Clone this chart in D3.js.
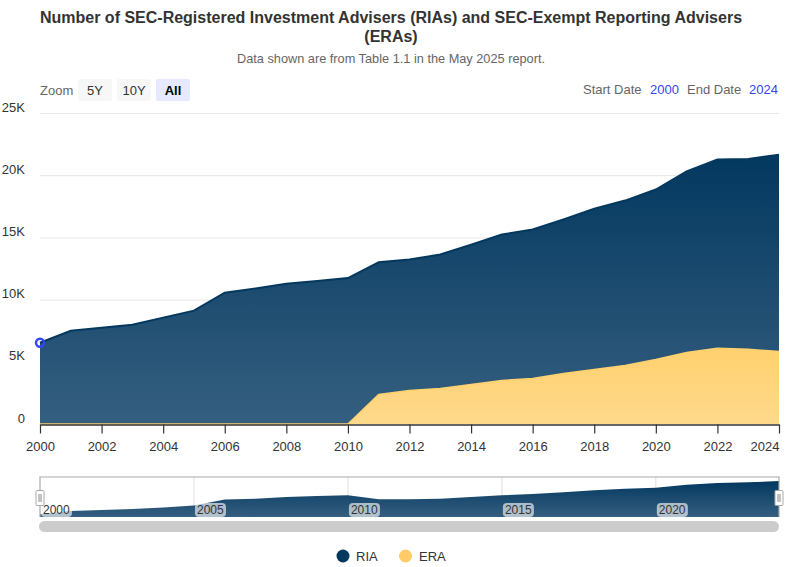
<!DOCTYPE html>
<html><head><meta charset="utf-8">
<script src="https://cdn.jsdelivr.net/npm/d3@7"></script>
<style>
html,body{margin:0;padding:0;background:#fff}
svg{display:block;font-family:"Liberation Sans",Arial,sans-serif}
.xa path{stroke:#333;stroke-width:1.5}
.xa line{stroke:#333;stroke-width:1.2}
.xa text{font-size:13px;fill:#333;font-family:"Liberation Sans"}
</style></head><body>
<svg id="c" width="786" height="567"></svg>
<script>
const years = d3.range(2000, 2025);
const ria = [6530,7500,7740,7980,8550,9110,10560,10890,11270,11500,11730,13000,13230,13620,14410,15230,15630,16440,17300,17960,18850,20300,21270,21310,21650];
const era = [0,0,0,0,0,0,0,0,0,0,0,2370,2690,2850,3170,3500,3650,4060,4380,4700,5190,5750,6080,6000,5820];
const navigatorShadow = [1875,3750,4375,5000,5940,7190,10940,11440,12500,13125,13560,11060,11060,11440,12500,13560,14375,15440,16690,17690,18310,20190,21250,21690,22500];
const yTicks = [0,5000,10000,15000,20000,25000];
const yTickLabels = ["0","5K","10K","15K","20K","25K"];
const xTicks = d3.range(2000, 2025, 2);
const navLabels = [2000,2005,2010,2015,2020];
const zoomButtons = ["5Y","10Y","All"];
const legendItems = ["RIA","ERA"];
const titleLines = ["Number of SEC-Registered Investment Advisers (RIAs) and SEC-Exempt Reporting Advisers","(ERAs)"];
const subtitle = "Data shown are from Table 1.1 in the May 2025 report.";

const svg = d3.select("#c");
const x = d3.scaleLinear().domain([2000,2024]).range([40,779]);
const y = d3.scaleLinear().domain([0,25000]).range([424,113]);
const ny = d3.scaleLinear().domain([0,25000]).range([517,477]);
const nx = d3.scaleLinear().domain([2000,2024]).range([40,779]);
const NAVY="#03385f", GOLD="#ffcc66";

const defs = svg.append("defs");
const g1 = defs.append("linearGradient").attr("id","gr").attr("x1",0).attr("x2",0).attr("y1",0).attr("y2",1);
g1.append("stop").attr("offset",0).attr("stop-color","#03385f");
g1.append("stop").attr("offset",1).attr("stop-color","#355f80");
const g2 = defs.append("linearGradient").attr("id","gy").attr("x1",0).attr("x2",0).attr("y1",0).attr("y2",1);
g2.append("stop").attr("offset",0).attr("stop-color","#ffd06e");
g2.append("stop").attr("offset",1).attr("stop-color","#ffd98c");

// titles
svg.selectAll(".t").data(titleLines).join("text").attr("class","t")
  .attr("x",391).attr("y",(d,i)=>23+i*19).attr("text-anchor","middle")
  .attr("font-size",16).attr("font-weight","bold").attr("fill","#333").text(d=>d);
svg.append("text").attr("x",391).attr("y",63).attr("text-anchor","middle").attr("font-size",12.75).attr("fill","#666").text(subtitle);

// zoom controls
svg.append("text").attr("x",40).attr("y",95).attr("font-size",13).attr("fill","#666").text("Zoom");
const bx = d3.scaleBand().domain(zoomButtons).range([78,190]).paddingInner(5/39).paddingOuter(0);
const b = svg.selectAll(".b").data(zoomButtons).join("g");
b.append("rect").attr("x",d=>bx(d)).attr("y",79).attr("width",bx.bandwidth()).attr("height",22).attr("rx",2)
  .attr("fill",d=>d==="All"?"#e6e9ff":"#f7f7f7");
b.append("text").attr("x",d=>bx(d)+bx.bandwidth()/2).attr("y",95).attr("text-anchor","middle").attr("font-size",13)
  .attr("font-weight",d=>d==="All"?"bold":"normal").attr("fill",d=>d==="All"?"#000":"#333").text(d=>d);

// date range
[["Start Date",583,"#666"],["2000",650,"#3344ee"],["End Date",687,"#666"],["2024",749,"#3344ee"]].forEach(r=>{
  svg.append("text").attr("x",r[1]).attr("y",94).attr("font-size",13).attr("fill",r[2]).text(r[0]);
});

// grid + y labels
svg.selectAll(".g").data(yTicks.slice(1)).join("line")
  .attr("x1",40).attr("x2",779).attr("y1",d=>y(d)+.5).attr("y2",d=>y(d)+.5).attr("stroke","#e6e6e6");
svg.selectAll(".yl").data(yTicks).join("text").attr("x",25).attr("y",d=>y(d)-1.5)
  .attr("text-anchor","end").attr("font-size",13).attr("fill","#333").text((d,i)=>yTickLabels[i]);

// areas
const areaOf = (sx,sy)=>d3.area().x((d,i)=>sx(years[i])).y0(sy(0)).y1(d=>sy(d));
const lineOf = (sx,sy)=>d3.line().x((d,i)=>sx(years[i])).y(d=>sy(d));
svg.append("path").datum(ria).attr("d",areaOf(x,y)).attr("fill","url(#gr)");
svg.append("path").datum(ria).attr("d",lineOf(x,y)).attr("fill","none").attr("stroke",NAVY).attr("stroke-width",2);
svg.append("path").datum(era).attr("d",areaOf(x,y)).attr("fill","url(#gy)");
svg.append("path").datum(era).attr("d",lineOf(x,y)).attr("fill","none").attr("stroke","#ffd06e").attr("stroke-width",1.5);
svg.append("circle").attr("cx",x(years[0])).attr("cy",y(ria[0])).attr("r",4).attr("fill","none").attr("stroke","#3344ff").attr("stroke-width",2.4);

// x axis
svg.append("g").attr("class","xa").attr("transform","translate(0,424.5)")
  .call(d3.axisBottom(x).tickValues(xTicks).tickFormat(d3.format("d")).tickSize(9).tickSizeOuter(0).tickPadding(6));
svg.select(".xa").selectAll("text").attr("dy","0.9em").filter(d=>d===2024).attr("text-anchor","end");

// navigator
svg.selectAll(".ng").data(navLabels.slice(1)).join("line")
  .attr("x1",d=>nx(d)).attr("x2",d=>nx(d)).attr("y1",477).attr("y2",517).attr("stroke","#e0e0e0");
svg.append("path").datum(navigatorShadow).attr("d",areaOf(nx,ny)).attr("fill","url(#gr)");
svg.append("path").attr("d",d3.line()([[nx(2000),517],[nx(2000),477],[nx(2024),477],[nx(2024),517]]))
  .attr("fill","none").attr("stroke","#aaa").attr("stroke-width",1.2);
const nl = svg.selectAll(".nl").data(navLabels).join("g");
const nlt = nl.append("text").attr("x",d=>nx(d)+3).attr("y",514).attr("font-size",12).attr("fill","#333").text(d=>d);
nl.insert("rect","text").each(function(){
  const bb = this.parentNode.querySelector("text").getBBox();
  d3.select(this).attr("x",bb.x-2).attr("y",bb.y).attr("width",bb.width+4).attr("height",bb.height).attr("rx",4)
    .attr("fill","rgba(255,255,255,.62)");
});
const hg = svg.selectAll(".h").data([2000,2024]).join("g").attr("transform",d=>`translate(${nx(d)},498)`);
hg.append("rect").attr("x",-4).attr("y",-7.5).attr("width",8).attr("height",15).attr("rx",1).attr("fill","#fff").attr("stroke","#aaa");
hg.selectAll("line").data([-1,1]).join("line").attr("x1",d=>d).attr("x2",d=>d).attr("y1",-4).attr("y2",4).attr("stroke","#888");
svg.append("rect").attr("x",39).attr("y",521).attr("width",740).attr("height",11).attr("rx",5.5).attr("fill","#ccc");

// legend
const lg = svg.selectAll(".lg").data(legendItems).join("g");
lg.append("circle").attr("cx",(d,i)=>343+i*62.5).attr("cy",556).attr("r",6.5).attr("fill",(d,i)=>[NAVY,GOLD][i]);
lg.append("text").attr("x",(d,i)=>356+i*63).attr("y",561).attr("font-size",13).attr("fill","#333").text(d=>d);
</script>
</body></html>
